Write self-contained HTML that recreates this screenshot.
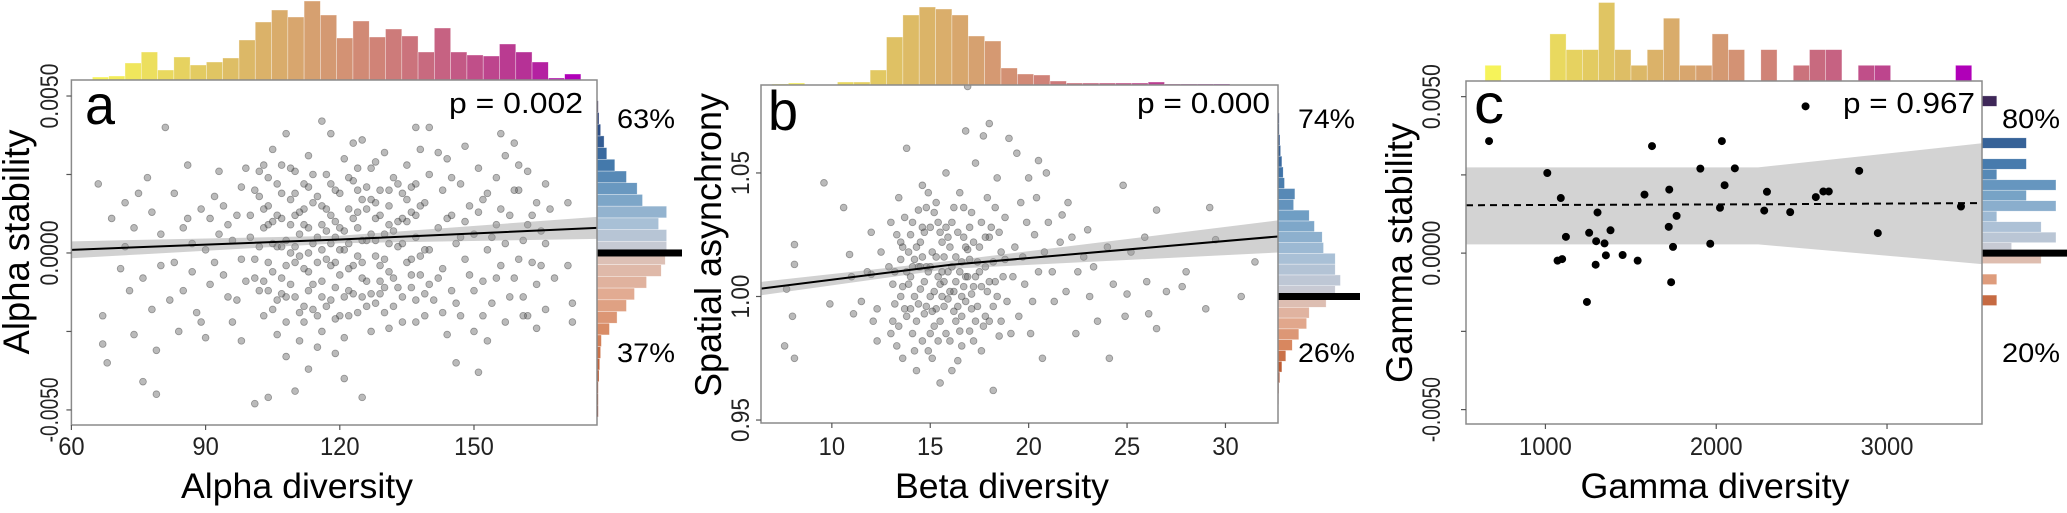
<!DOCTYPE html>
<html><head><meta charset="utf-8"><style>
html,body{margin:0;padding:0;background:#fff;}
svg{display:block;font-family:"Liberation Sans",Arial,sans-serif;}
</style></head><body>
<svg id="fig" width="2067" height="513" viewBox="0 0 2067 513" xmlns="http://www.w3.org/2000/svg"></svg>
<script>
// ---------- DATA ----------
// Panel a: alpha diversity vs alpha stability (y in units of 1e-4)
const alphaPts=[[66,22],[67,-20],[67,-29],[68,-35],[69,11],[72,16],[73,-12],[72,2],[74,-26],[75,19],[76,-8],[77,24],[78,13],[79,-31],[80,6],[80,-4],[81,40],[82,-15],[83,19],[84,-25],[85,8],[86,28],[87,-6],[88,-19],[89,14],[90,1],[91,-10],[92,18],[93,26],[94,-7],[95,9],[96,-22],[97,12],[98,-2],[71,-5],[74,8],[78,-18],[83,-3],[86,11],[90,-27],[76,-41],[79,-45],[101,-48],[104,-46],[108,-33],[113,-37],[121,-40],[125,-46],[110,-44],
[100,5],[101,20],[102,-12],[103,28],[103,8],[104,-3],[104,15],[105,33],[105,-18],[106,2],[106,22],[107,-8],[107,11],[108,38],[108,-22],[109,17],[109,0],[110,-14],[110,26],[111,6],[111,-28],[112,14],[112,-5],[113,31],[113,21],[114,-10],[114,3],[115,18],[115,-20],[116,9],[116,42],[117,-2],[117,25],[118,-15],[118,12],[119,5],[119,-32],[120,19],[120,-7],[121,30],[121,1],[122,-12],[122,14],[123,23],[123,-4],[124,8],[124,-19],[125,17],[125,36],[126,-9],[126,4],[127,27],[127,-25],[128,11],[128,-1],[129,20],[129,-13],[130,32],[130,6],[131,-6],[131,15],[132,24],[132,-17],[133,2],[133,10],[134,-22],[134,19],[135,28],[135,-3],[136,13],[136,-11],[137,5],[137,22],[138,-7],[138,33],[139,16],[139,-20],[140,1],[140,25],
[102,2],[105,10],[108,4],[111,-1],[114,25],[117,7],[120,-20],[123,35],[126,14],[129,-4],[112,-17],[116,-25],[119,10],[122,3],[125,-14],[128,29],[131,-24],[109,-10],[106,-26],[103,-20],[101,-8],[115,-30],[118,38],[121,-27],[110,12],[113,0],[116,1],[119,20],[124,-1],[127,6],
[104,9],[107,-13],[110,19],[113,-6],[116,15],[119,-11],[122,24],[125,-3],[128,-16],[131,9],[134,3],[137,-15],[107,28],[112,-22],[118,-4],[124,13],[130,-11],[136,21],
[141,-15],[142,8],[143,20],[143,-5],[144,30],[145,-12],[145,12],[146,3],[147,22],[147,-20],[148,-2],[149,15],[150,-25],[150,6],[151,27],[152,-9],[152,17],[153,1],[154,-16],[155,24],[155,9],[156,-4],[157,31],[157,-22],[158,12],[159,35],[159,-8],[160,20],[161,-14],[161,4],[162,26],[163,-3],[164,16],[164,-24],[165,7],[166,-18],[166,22],[171,16],[171,-4],[172,-16],[172,-22],[144,-26],[148,34],[153,-28],[156,38],[162,-20],[146,-35],[151,-38],[160,28],[140,40],[137,40],[142,32],
[100,12],[101,-2],[102,18],[103,-9],[104,24],[105,3],[106,-15],[107,19],[108,-4],[109,27],[110,2],[111,-19],[112,9],[113,-12],[114,16],[115,-3],[116,-9],[117,14],[118,3],[119,-21],[120,8],[121,-14],[122,-5],[123,11],[124,27],[125,-8],[126,21],[127,-13],[128,4],[129,12],[130,-19],[131,3],[132,-8],[133,22],[134,-14],[135,10],[136,-2],[137,-22],[138,15],[139,1],[140,-10],
[102,26],[104,-12],[106,12],[108,-14],[110,-3],[112,22],[114,-18],[116,-14],[118,22],[120,1],[122,-20],[124,20],[126,-17],[128,16],[130,-2],[132,7],[134,11],[136,-7],[138,-1],[103,14],[105,-6],[107,2],[109,9],[111,13],[113,8],[115,5],[117,-17],[119,-3],[121,7],[123,-13],[125,4],[127,17],[129,-9],[131,20],[133,-11],[135,17],[137,12],[139,-13],
[96,4],[97,-15],[98,21],[99,-9],[95,-14],[93,6],[91,11],[89,-22],[87,3],[85,-12],[92,-3],[94,15],[99,27],[98,-28],[142,-8],[144,11],[146,-16],[148,10],[150,-12],[152,-20],[154,5],[156,14],[158,-14],[160,-2],[162,9],[164,-10],[166,3],[143,-19],[145,24],[147,5],[149,-7],[151,13],[153,19],[155,-8],[157,3],[159,20],[161,-20],[163,12],[165,-4],[167,14],[168,-8]];
const alphaFitX=[60,120,177.5];
const alphaFitY=[0.0001,0.00043,0.0008];
const alphaFitHW=[0.00027,0.00012,0.00035];
const alphaTopCounts=[3,4,17,28,10,23,15,18,22,40,58,70,63,79,65,42,59,43,51,44,28,52,28,25,24,36,28,18,2,6];
const alphaRightAbove=[52,52,46,52,34,30,22,13.3,7.3,5.3,2.7,1.5,1];
const alphaRightBelow=[51,48,37,28,22,15,9.3,3.3,2.7,2,1.5,1,1,1];

// Panel b: beta diversity vs spatial asynchrony
const betaPts=[[7.7,1.003],[7.6,0.980],[8.1,1.021],[8.1,1.013],[8.0,0.992],[8.1,0.975],[9.9,0.997],[9.6,1.046],[10.6,1.036],[10.9,1.017],[11.1,0.993],[11.0,1.008],[11.5,0.998],[12.0,1.009],[12.0,1.026],[12.3,0.995],[12.3,0.982],[12.1,0.990],[11.8,1.010],[12.5,1.018],
[13,1.030],[13.2,1.010],[13.1,0.990],[13.4,1.040],[13.5,1.000],[13.3,0.980],[13.6,1.020],[13.8,1.060],[13.7,0.995],[13.9,1.005],[14.0,1.025],[14.1,0.985],[14.2,1.015],[14.3,0.970],[14.4,1.035],[14.5,1.003],[14.6,1.045],[14.7,0.993],[14.8,1.012],[14.9,0.978],[15.0,1.028],[15.0,1.000],[15.1,1.018],[15.2,0.988],[15.3,1.038],[15.4,1.008],[15.5,0.965],[15.6,1.022],[15.7,0.996],[15.8,1.050],[15.9,1.010],[16.0,0.982],[16.1,1.030],[16.2,1.002],[16.3,1.016],[16.4,0.974],[16.5,1.042],[16.6,0.992],[16.7,1.024],[16.8,1.008],[16.9,1.085],[17.0,0.986],[17.1,1.034],[17.2,1.004],[17.3,1.054],[17.4,0.996],[17.5,1.020],[17.6,0.978],[17.7,1.065],[17.8,1.012],[17.9,1.040],[18.0,0.990],[18.1,1.028],[18.2,0.962],[18.3,1.006],[18.4,1.048],[18.5,0.984],[18.6,1.018],[18.8,1.032],[18.9,0.998],[19.0,1.064],
[13.5,1.015],[14.0,1.008],[14.5,1.022],[15.0,1.012],[15.5,1.005],[16.0,1.020],[16.5,1.010],[17.0,1.015],[14.2,1.000],[14.8,0.996],[15.4,1.030],[16.2,0.994],[16.8,0.998],[15.8,0.985],[14.6,1.028],[15.2,1.002],[16.4,1.026],[17.2,1.022],[13.9,1.018],[15.6,1.010],[16.6,1.014],[17.6,1.004],[18.2,1.014],[14.3,0.990],[15.1,0.975],[16.1,0.970],[17.3,0.990],[13.6,1.004],[18.7,1.008],[14.9,1.042],[16.7,1.036],[15.3,0.995],[17.8,0.992],
[13.3,1.025],[14.1,1.012],[14.7,1.006],[15.7,1.016],[16.3,1.006],[16.9,1.019],[17.5,1.010],[14.4,0.997],[15.9,0.999],[17.1,1.001],[13.8,0.992],[15.5,1.026],[16.6,1.000],[18.0,1.024],[14.6,1.016],
[13.1,1.005],[13.4,0.988],[13.7,1.032],[14.0,0.995],[14.3,1.020],[14.6,0.982],[14.9,1.010],[15.2,1.034],[15.5,0.990],[15.8,1.028],[16.1,1.012],[16.4,0.996],[16.7,1.004],[17.0,1.028],[17.3,1.008],[17.6,1.030],[17.9,1.002],[18.2,0.996],[18.5,1.026],[18.8,1.015],
[13.2,0.997],[13.5,1.022],[13.8,1.010],[14.1,1.030],[14.4,1.012],[14.7,1.026],[15.0,0.985],[15.3,1.016],[15.6,1.000],[15.9,1.024],[16.2,1.036],[16.5,0.986],[16.8,1.020],[17.1,0.995],[17.4,1.014],[17.7,0.988],[18.0,1.006],[18.3,1.036],[18.6,0.990],[12.9,1.012],
[13.0,0.985],[13.6,0.975],[14.2,0.978],[14.8,1.036],[15.4,0.982],[16.0,1.002],[16.6,0.980],[17.2,0.982],[17.8,1.024],[18.4,1.000],[14.5,1.012],[15.7,1.006],[16.9,1.008],[15.1,0.994],[16.3,0.990],
[19.3,1.020],[19.5,0.992],[19.6,1.038],[19.8,1.005],[20.0,1.048],[20.1,0.985],[20.3,1.025],[20.5,1.010],[20.7,0.975],[20.9,1.050],[21.0,1.030],[21.3,0.998],[21.6,1.022],[21.9,1.002],[22.0,1.038],[22.4,0.985],[22.5,1.010],[22.8,1.016],[23.0,1.027],[23.1,1.000],[23.5,0.990],[24.0,1.020],[24.1,0.975],[24.3,1.005],[24.8,1.045],[24.9,0.992],[25.2,1.018],[25.9,1.024],[26.0,1.006],[26.1,0.993],[26.5,1.035],[26.5,0.987],[27.0,1.002],[28.0,1.010],[29.2,1.036],[29.5,1.023],[29.0,0.995],[30.8,1.000],[31.5,1.014],[27.8,1.004],[25.0,1.001],[21.7,1.033],[19.4,1.058],[20.5,1.055],[16.8,1.067],[18.0,1.070],
[19.2,1.008],[19.7,1.016],[20.2,0.998],[19.9,1.030],[20.8,1.018],[21.2,1.010],[19.1,0.985],[20.4,1.040],[22.2,1.024],[23.3,1.012]];
const betaFitX=[6.4,16,32.67];
const betaFitY=[1.0032,1.0128,1.0243];
const betaFitHW=[0.0027,0.0016,0.0065];
const betaTopCounts=[1,2,0,0,3,3,15,48,70,78,76,70,49,44,17,11,10,4,2,2,2,2,2,3,1,1,1,1];
const betaRightAbove=[44,48,44,44,35,34,28,24,12,13,5,4,3,2,1.5,1,1,0.5,0.5];
const betaRightBelow=[37,24,22,16,11,6,3,1.3,0.7,0.5,0.3];

// Panel c: gamma diversity vs gamma stability (y in units of 1e-4)
const gammaX=[670,2523,1624,2033,1011,1907,2109,2837,1090,2049,1580,1725,2297,2583,2627,2659,1305,2022,2281,2433,3433,1768,1120,1256,1381,1722,1297,1346,1965,2946,1747,1354,1452,1540,1071,1098,1294,1736,1243];
const gammaY=[35.8,46.9,34.2,35.8,25.6,27.0,27.1,26.3,17.6,21.7,18.7,20.3,19.6,17.9,19.7,19.7,13.0,14.5,13.6,13.1,14.9,11.9,5.2,6.5,7.3,8.4,3.8,3.1,3.0,6.4,2.0,-0.7,-0.6,-2.4,-2.4,-1.9,-3.7,-9.3,-15.6];
const gammaFitX=[535,2245,3556];
const gammaFitY=[0.00153,0.00156,0.0016];
const gammaBandHi=[0.00274,0.00274,0.00351];
const gammaBandLo=[0.00028,0.00028,-0.00035];
const gammaTopCounts=[1,0,0,0,3,2,2,5,2,1,2,4,1,1,3,2,0,2,0,1,2,2,0,1,1,0,0,0,0,1];
const gammaRightAbove=[2,5,4,1,5,3,5,1,3,0,3,0,0,0,1];
const gammaRightBelow=[4,0,1,0,1];

// ---------- RENDER ----------
const svg=document.getElementById('fig');
const NS='http://www.w3.org/2000/svg';
function mk(tag,attrs,parent){const e=document.createElementNS(NS,tag);for(const k in attrs)e.setAttribute(k,attrs[k]);(parent||svg).appendChild(e);return e;}
function hex2rgb(h){return [parseInt(h.substr(1,2),16),parseInt(h.substr(3,2),16),parseInt(h.substr(5,2),16)];}
function grad(stops,t){t=Math.max(0,Math.min(1,t));for(let i=1;i<stops.length;i++){if(t<=stops[i][0]){const a=stops[i-1],b=stops[i];const f=(t-a[0])/(b[0]-a[0]);const c1=hex2rgb(a[1]),c2=hex2rgb(b[1]);return 'rgb('+c1.map((v,j)=>Math.round(v+(c2[j]-v)*f)).join(',')+')';}}return stops[stops.length-1][1];}
const topStops=[[0,'#f6f35a'],[0.25,'#dfc363'],[0.45,'#d6a070'],[0.6,'#cf8078'],[0.75,'#c45c84'],[0.9,'#b63096'],[1,'#b000b8']];
const posStops=[[0,'#cdccd4'],[0.2,'#a6bfd6'],[0.4,'#6e9dc3'],[0.6,'#3f74a8'],[0.8,'#2c4f88'],[0.92,'#2e3a72'],[1,'#4a1a45']];
const negStops=[[0,'#dcc4bb'],[0.25,'#e2ab92'],[0.5,'#d8875f'],[0.75,'#b8552c'],[1,'#8a3020']];

function txt(s,x,y,size,len,attrs,name){const t=mk('text',Object.assign({x:x,y:y,'font-size':size,fill:'#000'},attrs||{}));if(len){t.setAttribute('textLength',len);t.setAttribute('lengthAdjust','spacingAndGlyphs');}t.textContent=s;


return t;}

function panel(P){
  const g=mk('g',{});
  
  
  const sx=v=>P.x0+(v-P.xmin)/(P.xmax-P.xmin)*(P.x1-P.x0);
  const sy=v=>P.y1-(v-P.ymin)/(P.ymax-P.ymin)*(P.y1-P.y0);
  const n=P.topCounts.length;
  P.topCounts.forEach((c,i)=>{if(c<=0)return;const xa=sx(P.binStart+i*P.binW),xb=sx(P.binStart+(i+1)*P.binW);const h=c*P.topScale;
    const r=mk('rect',{x:xa,y:P.y0-h,width:xb-xa,height:h,fill:grad(topStops,i/(n-1)),stroke:'#fff','stroke-width':0.6,'stroke-opacity':0.6},g);
    
    });
  const zy=sy(P.zero);
  P.rightAbove.forEach((c,k)=>{if(c<=0)return;const ya=sy(P.zero+(k+1)*P.rBinH),yb=sy(P.zero+k*P.rBinH);
    const r=mk('rect',{x:P.x1,y:ya,width:c*P.rightScale,height:yb-ya,fill:grad(posStops,(k+0.5)/P.rightAbove.length),stroke:'#fff','stroke-width':0.6,'stroke-opacity':0.6},g);
    
    });
  P.rightBelow.forEach((c,k)=>{if(c<=0)return;const ya=sy(P.zero-k*P.rBinH),yb=sy(P.zero-(k+1)*P.rBinH);
    const r=mk('rect',{x:P.x1,y:ya,width:c*P.rightScale,height:yb-ya,fill:grad(negStops,(k+0.5)/P.negNorm),stroke:'#fff','stroke-width':0.6,'stroke-opacity':0.6},g);
    
    });
  const zl=mk('rect',{x:P.x1,y:zy-3.5,width:P.zeroLineEnd-P.x1,height:7,fill:'#000'},g);
  
  
  const bg=mk('rect',{x:P.x0,y:P.y0,width:P.x1-P.x0,height:P.y1-P.y0,fill:'#fff'},g);
  
  
  const cid='clip'+P.name;const cp=mk('clipPath',{id:cid},g);mk('rect',{x:P.x0,y:P.y0,width:P.x1-P.x0,height:P.y1-P.y0},cp);
  const inner=mk('g',{'clip-path':'url(#'+cid+')'},g);
  P.pts.forEach(p=>{const c=mk('circle',{cx:sx(p[0]),cy:sy(p[1]),r:P.r,fill:P.ptFill,'fill-opacity':P.ptOp,stroke:P.ptStroke,'stroke-opacity':P.ptOp,'stroke-width':0.8},inner);
    
    });
  let up=P.fitX.map((x,i)=>sx(x)+','+sy(P.bandHi[i])),lo=P.fitX.map((x,i)=>sx(x)+','+sy(P.bandLo[i])).reverse();
  const band=mk('polygon',{points:up.concat(lo).join(' '),fill:P.bandFill,'fill-opacity':P.bandOp},inner);
  
  
  if(P.bandFirst){inner.insertBefore(band,inner.firstChild);}
  const line=mk('polyline',{points:P.fitX.map((x,i)=>sx(x)+','+sy(P.fitY[i])).join(' '),fill:'none',stroke:'#000','stroke-width':2,'stroke-dasharray':P.dash||'none'},inner);
  
  
  const bd=mk('rect',{x:P.x0,y:P.y0,width:P.x1-P.x0,height:P.y1-P.y0,fill:'none',stroke:'#8a8a8a','stroke-width':1.5},g);
  
  
  P.yTicks.forEach(v=>{const y=sy(v);mk('line',{x1:P.x0-5,x2:P.x0,y1:y,y2:y,stroke:'#555','stroke-width':1.2},g);});
  P.yLabels.forEach((s,i)=>{const y=sy(P.yLabelVals[i]);txt(s,0,0,P.yTickSize,P.yTickLen,{transform:'translate('+P.yTickX+','+y+') rotate(-90)','text-anchor':'middle',fill:'#222'},'y-tick-label');});
  P.xTicks.forEach((v,i)=>{const x=sx(v);mk('line',{x1:x,x2:x,y1:P.y1,y2:P.y1+5,stroke:'#555','stroke-width':1.2},g);
    txt(P.xLabels[i],x,455,25,P.xLabels[i].length*13.2,{'text-anchor':'middle',fill:'#222'},'x-tick-label');});
}

const panels=[
 {name:'panel-a',x0:71.4,x1:597,y0:80,y1:425,xmin:60,xmax:177.5,ymin:-0.00548,ymax:0.00551,
  pts:alphaPts.map(p=>[p[0],p[1]*1e-4]),r:3.4,ptFill:'#5a5a5a',ptStroke:'#2a2a2a',ptOp:0.42,
  fitX:alphaFitX,fitY:alphaFitY,bandHi:alphaFitY.map((v,i)=>v+alphaFitHW[i]),bandLo:alphaFitY.map((v,i)=>v-alphaFitHW[i]),bandFill:'#9a9a9a',bandOp:0.45,
  topCounts:alphaTopCounts,binStart:64.7,binW:3.64,topScale:1,
  rightAbove:alphaRightAbove,rightBelow:alphaRightBelow,rBinH:0.000373,zero:0,rightScale:1.339,negNorm:14,zeroLineEnd:682,
  yTicks:[0.005,0.0025,0,-0.0025,-0.005],yLabels:['0.0050','0.0000','-0.0050'],yLabelVals:[0.005,0,-0.005],yTickX:58,yTickSize:25,yTickLen:65,
  xTicks:[60,90,120,150],xLabels:['60','90','120','150']},
 {name:'panel-b',x0:761,x1:1278,y0:85,y1:423,xmin:6.4,xmax:32.67,ymin:0.9488,ymax:1.0856,
  pts:betaPts,r:3.4,ptFill:'#5a5a5a',ptStroke:'#2a2a2a',ptOp:0.42,
  fitX:betaFitX,fitY:betaFitY,bandHi:betaFitY.map((v,i)=>v+betaFitHW[i]),bandLo:betaFitY.map((v,i)=>v-betaFitHW[i]),bandFill:'#9a9a9a',bandOp:0.45,
  topCounts:betaTopCounts,binStart:6.96,binW:0.831,topScale:1,
  rightAbove:betaRightAbove,rightBelow:betaRightBelow,rBinH:0.00437,zero:1.0,rightScale:1.301,negNorm:9,zeroLineEnd:1360,
  yTicks:[1.05,1.0,0.95],yLabels:['1.05','1.00','0.95'],yLabelVals:[1.05,1.0,0.95],yTickX:749,yTickSize:25,yTickLen:44,
  xTicks:[10,15,20,25,30],xLabels:['10','15','20','25','30']},
 {name:'panel-c',x0:1466,x1:1982,y0:81,y1:424,xmin:535,xmax:3556,ymin:-0.00546,ymax:0.0055,
  pts:gammaX.map((x,i)=>[x,gammaY[i]*1e-4]),r:3.6,ptFill:'#000',ptStroke:'#000',ptOp:1,bandFirst:true,
  fitX:gammaFitX,fitY:gammaFitY,bandHi:gammaBandHi,bandLo:gammaBandLo,bandFill:'#d3d3d3',bandOp:1,dash:'7,5',
  topCounts:gammaTopCounts,binStart:646,binW:95,topScale:15.7,
  rightAbove:gammaRightAbove,rightBelow:gammaRightBelow,rBinH:0.000335,zero:0,rightScale:14.8,negNorm:7,zeroLineEnd:2067,
  yTicks:[0.005,0.0025,0,-0.0025,-0.005],yLabels:['0.0050','0.0000','-0.0050'],yLabelVals:[0.005,0,-0.005],yTickX:1440,yTickSize:25,yTickLen:65,
  xTicks:[1000,2000,3000],xLabels:['1000','2000','3000']}
];
panels.forEach(panel);

txt('a',85,124,56,30,{},'panel-label-a');
txt('p = 0.002',449,113,29,134,{},'p-value-a');
txt('63%',617,128,27,58,{},'percent-positive-a');
txt('37%',617,362,27,58,{},'percent-negative-a');
txt('Alpha stability',0,0,37,225,{transform:'translate(29,242) rotate(-90)','text-anchor':'middle'},'y-axis-title-a');
txt('Alpha diversity',297,498,35,232,{'text-anchor':'middle'},'x-axis-title-a');

txt('b',768,130,56,30,{},'panel-label-b');
txt('p = 0.000',1137,113,29,133,{},'p-value-b');
txt('74%',1298,128,27,57,{},'percent-positive-b');
txt('26%',1298,362,27,57,{},'percent-negative-b');
txt('Spatial asynchrony',0,0,37,304,{transform:'translate(721,245) rotate(-90)','text-anchor':'middle'},'y-axis-title-b');
txt('Beta diversity',1002,498,35,214,{'text-anchor':'middle'},'x-axis-title-b');

txt('c',1474,123,56,30,{},'panel-label-c');
txt('p = 0.967',1843,113,29,132,{},'p-value-c');
txt('80%',2002,128,27,58,{},'percent-positive-c');
txt('20%',2002,362,27,58,{},'percent-negative-c');
txt('Gamma stability',0,0,37,260,{transform:'translate(1412,253) rotate(-90)','text-anchor':'middle'},'y-axis-title-c');
txt('Gamma diversity',1715,498,35,269,{'text-anchor':'middle'},'x-axis-title-c');
</script>
</body></html>
